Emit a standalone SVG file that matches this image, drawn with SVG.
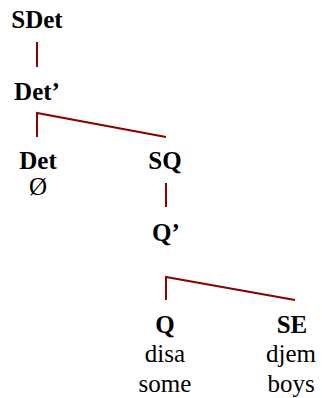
<svg xmlns="http://www.w3.org/2000/svg" width="322" height="398" viewBox="0 0 322 398">
  <style>
    text { font-family: 'Liberation Serif', 'Times New Roman', serif; fill: #000; text-anchor: middle; }
    .cat { font-weight: bold; font-size: 25px; }
    .word { font-size: 25px; }
    .branch { stroke: #8b0000; stroke-width: 2; fill: none; }
  </style>
  <rect width="322" height="398" fill="#fff"/>

  <!-- tree branches -->
  <g id="connectors">
    <line class="branch" x1="37" y1="42" x2="37" y2="67"/>
    <polyline class="branch" points="37,137 37,113 166,137"/>
    <line class="branch" x1="166" y1="183" x2="166" y2="207"/>
    <polyline class="branch" points="166,300 166,277 295,300"/>
  </g>

  <g id="SDet"><text class="cat" x="37" y="28">SDet</text></g>
  <g id="DetBar"><text class="cat" x="37" y="100">Det’</text></g>
  <g id="Det">
    <text class="cat" x="38" y="169">Det</text>
    <text class="word" x="38" y="195">Ø</text>
  </g>
  <g id="SQ"><text class="cat" x="165" y="169">SQ</text></g>
  <g id="QBar"><text class="cat" x="166" y="241">Q’</text></g>
  <g id="Q">
    <text class="cat" x="165" y="333">Q</text>
    <text class="word" x="165" y="362">disa</text>
    <text class="word" x="165" y="392">some</text>
  </g>
  <g id="SE">
    <text class="cat" x="292" y="333">SE</text>
    <text class="word" x="291" y="362">djem</text>
    <text class="word" x="291" y="392">boys</text>
  </g>
</svg>
